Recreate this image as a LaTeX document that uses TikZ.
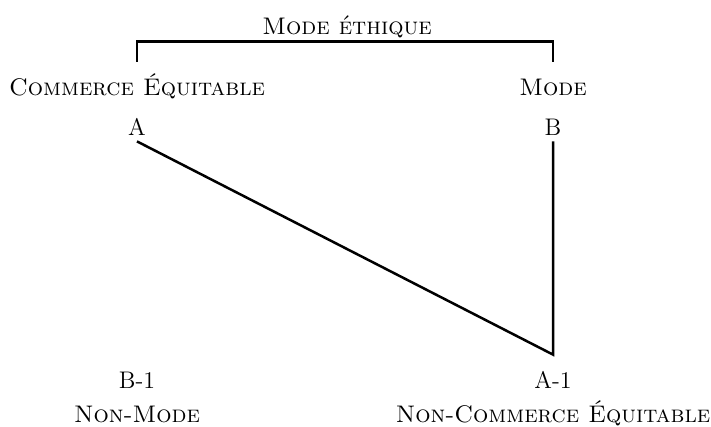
\documentclass[tikz,border=0pt]{standalone}
\usepackage{tikz}

\begin{document}
\begin{tikzpicture}[
  x=0.5pt, y=-0.5pt,
  font=\fontsize{12}{14}\selectfont,
  term/.style={
    inner sep=0pt,
    anchor=base,
    text height=9pt,
    text depth=2.5pt
  },
  link/.style={line width=1.25pt, line join=miter},
  bracket/.style={line width=1.25pt}
]
  \useasboundingbox (0,0) rectangle (711,427);

  \node[term] (title) at (347,35) {\textsc{Mode éthique}};
  \node[term] (ce) at (137,96) {\textsc{Commerce Équitable}};
  \node[term] (mode) at (553,96) {\textsc{Mode}};
  \node[term] (a) at (137,136) {A};
  \node[term] (b) at (553,136) {B};
  \node[term] (bm1) at (137,388) {B-1};
  \node[term] (am1) at (553,388) {A-1};
  \node[term] (nonmode) at (137,422) {\textsc{Non-Mode}};
  \node[term] (nonce) at (553,422) {\textsc{Non-Commerce Équitable}};

  \coordinate (apex) at ([yshift=7.5pt]am1.north);

  \draw[bracket] ([yshift=8pt]ce.north) |- ([yshift=-0.5pt]title.south) -| ([yshift=8pt]mode.north);
  \draw[link] (a.south) -- (apex) -- (b.south);
\end{tikzpicture}
\end{document}
